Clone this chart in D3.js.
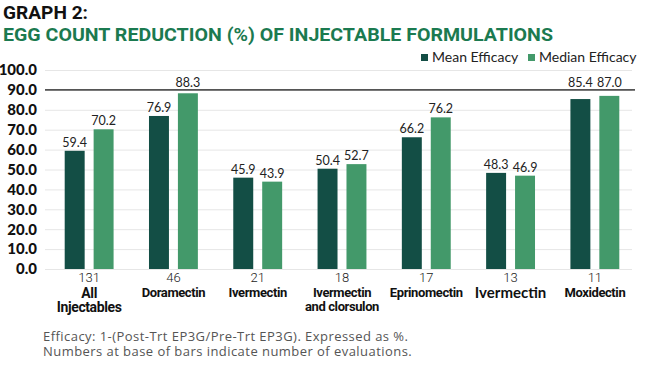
<!DOCTYPE html>
<html>
<head>
<meta charset="utf-8">
<script src="https://cdn.jsdelivr.net/npm/d3@7"></script>
<style>
  body { margin: 0; background: #fff; }
  svg { display: block; }
</style>
</head>
<body>
<svg id="chart" width="653" height="368"></svg>
<script>
// data
var categories = ["All Injectables", "Doramectin", "Ivermectin", "Ivermectin and clorsulon", "Eprinomectin", "Ivermectin", "Moxidectin"];
var nameLines = [["All", "Injectables"], ["Doramectin"], ["Ivermectin"], ["Ivermectin", "and clorsulon"], ["Eprinomectin"], ["Ivermectin"], ["Moxidectin"]];
var counts = [131, 46, 21, 18, 17, 13, 11];
var meanEfficacy = [59.4, 76.9, 45.9, 50.4, 66.2, 48.3, 85.4];
var medianEfficacy = [70.2, 88.3, 43.9, 52.7, 76.2, 46.9, 87.0];
var seriesNames = ["Mean Efficacy", "Median Efficacy"];
var yTicks = [0, 10, 20, 30, 40, 50, 60, 70, 80, 90, 100];
var refValue = 90;

var colors = ["#134e45", "#43996a"];

var svg = d3.select("#chart");
var m = { left: 47, right: 637, top: 70, bottom: 269 };

var x = d3.scaleBand().domain(d3.range(categories.length)).range([m.left, m.right]).paddingInner(0.42).paddingOuter(0.21);
var xInner = d3.scaleBand().domain([0, 1]).range([0, x.bandwidth()]).paddingInner(0.31);
var y = d3.scaleLinear().domain([0, 100]).range([m.bottom, m.top]);

// title
svg.append("text").attr("x", 3).attr("y", 19)
  .attr("font-family", "Roboto").attr("font-weight", 700).attr("font-size", 18)
  .attr("textLength", 85).attr("lengthAdjust", "spacingAndGlyphs")
  .attr("fill", "#111").text("GRAPH 2:");
svg.append("text").attr("x", 3).attr("y", 41)
  .attr("font-family", "Roboto").attr("font-weight", 700).attr("font-size", 18.5)
  .attr("textLength", 550).attr("lengthAdjust", "spacingAndGlyphs")
  .attr("fill", "#1b7a50").text("EGG COUNT REDUCTION (%) OF INJECTABLE FORMULATIONS");

// legend
var legendX = [421, 528];
seriesNames.forEach(function (s, i) {
  svg.append("rect").attr("x", legendX[i]).attr("y", 54).attr("width", 7).attr("height", 7).attr("fill", colors[i]);
  svg.append("text").attr("x", legendX[i] + 11).attr("y", 61.5)
    .attr("font-family", "Lato").attr("font-size", 14).attr("fill", "#222").text(s);
});

var g = svg.append("g");

// gridlines
g.append("g").attr("transform", "translate(" + (m.left - 2) + ",0)")
  .call(d3.axisRight(y).tickValues(yTicks).tickSize(m.right - m.left - 3).tickFormat(""))
  .call(function (a) {
    a.select(".domain").remove();
    a.selectAll(".tick line").attr("stroke", "#e6e6e6").attr("stroke-width", 1);
  });

// y labels
g.append("g").attr("transform", "translate(" + m.left + ",0)")
  .call(d3.axisLeft(y).tickValues(yTicks).tickSize(0).tickPadding(10).tickFormat(d3.format(".1f")))
  .call(function (a) {
    a.select(".domain").remove();
    a.selectAll(".tick text").attr("font-family", "Lato").attr("font-weight", 900)
      .attr("font-size", 15).attr("fill", "#111");
  });

// reference line at 90
g.append("line").attr("x1", m.left - 2).attr("x2", m.right - 2)
  .attr("y1", y(refValue)).attr("y2", y(refValue))
  .attr("stroke", "#555").attr("stroke-width", 1.6);

// bars
var rows = categories.map(function (c, i) { return [meanEfficacy[i], medianEfficacy[i]]; });
var groups = g.selectAll(".grp").data(rows).enter().append("g")
  .attr("transform", function (d, i) { return "translate(" + x(i) + ",0)"; });

groups.selectAll("rect").data(function (d) { return d; }).enter().append("rect")
  .attr("x", function (d, j) { return xInner(j); })
  .attr("y", function (d) { return y(d); })
  .attr("width", xInner.bandwidth())
  .attr("height", function (d) { return y(0) - y(d); })
  .attr("fill", function (d, j) { return colors[j]; });

// value labels; the ones that would cross the 90 line sit above it
groups.selectAll(".val").data(function (d) { return d; }).enter().append("text")
  .attr("x", function (d, j) { return xInner(j) + xInner.bandwidth() / 2; })
  .attr("y", function (d) {
    var yy = y(d) - 4;
    return (yy - 10 < y(refValue) + 1) ? y(refValue) - 3 : yy;
  })
  .attr("text-anchor", "middle")
  .attr("font-family", "Lato").attr("font-size", 12.5).attr("fill", "#222")
  .text(function (d) { return d3.format(".1f")(d); });

// counts and names under the groups
var cats = g.selectAll(".cat").data(categories).enter().append("g")
  .attr("transform", function (d, i) { return "translate(" + (x(i) + x.bandwidth() / 2) + ",0)"; });

cats.append("text").attr("y", 281.5).attr("text-anchor", "middle")
  .attr("font-family", "Roboto").attr("font-weight", 300).attr("font-size", 13)
  .attr("fill", "#222").text(function (d, i) { return counts[i]; });

cats.each(function (d, i) {
  var big = (i === 5);
  d3.select(this).selectAll(".nm").data(nameLines[i]).enter().append("text")
    .attr("y", function (l, k) { return (i === 0 || big ? 298 : 297) + k * 13.5; })
    .attr("text-anchor", "middle")
    .attr("font-family", big ? "Lato" : "Roboto")
    .attr("font-weight", 700)
    .attr("font-size", big ? 15 : (i === 0 ? 14 : 13))
    .attr("letter-spacing", big ? 0 : -0.4)
    .attr("fill", "#111")
    .text(function (l) { return l; });
});

// footnote
var notes = ["Efficacy: 1-(Post-Trt EP3G/Pre-Trt EP3G). Expressed as %.", "Numbers at base of bars indicate number of evaluations."];
svg.selectAll(".note").data(notes).enter().append("text")
  .attr("x", 43).attr("y", function (d, i) { return 341 + i * 15; })
  .attr("font-family", "Open Sans").attr("font-size", 13).attr("letter-spacing", 0.45)
  .attr("fill", "#555")
  .text(function (d) { return d; });
</script>
</body>
</html>
